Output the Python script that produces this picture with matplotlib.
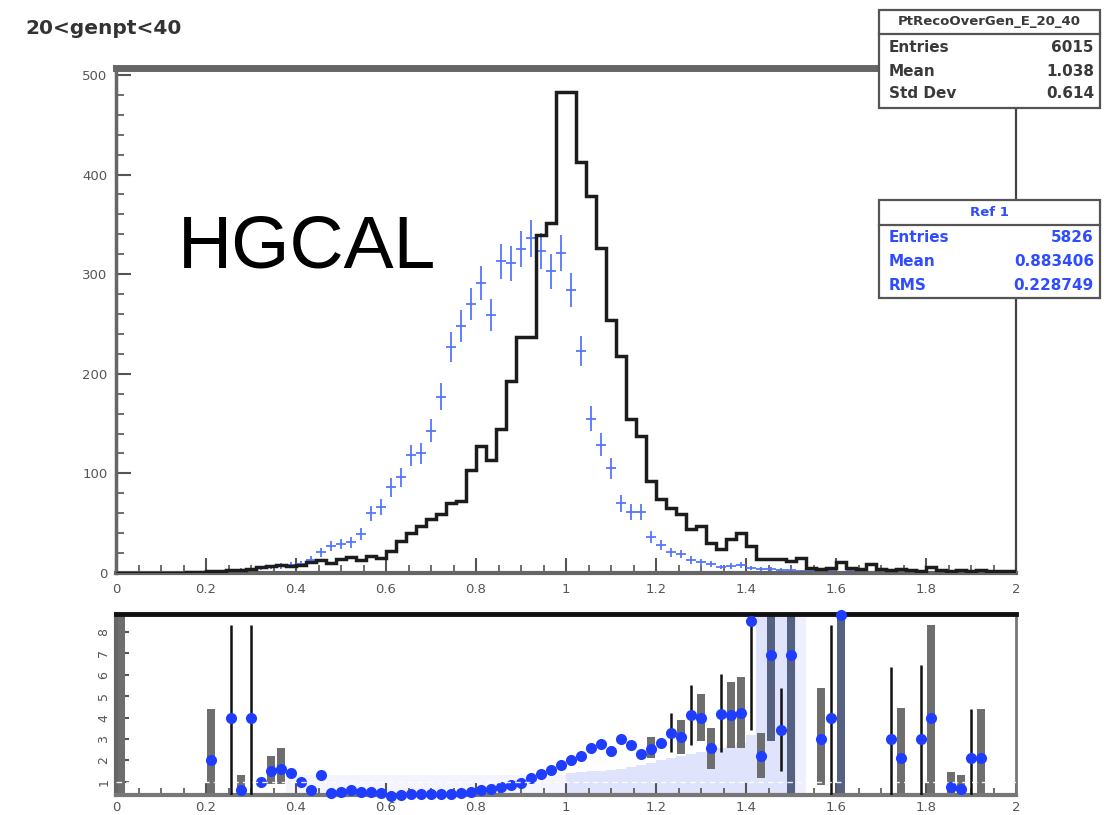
import numpy as np
import matplotlib.pyplot as plt
from matplotlib.patches import Rectangle
from matplotlib.lines import Line2D
from matplotlib.ticker import MultipleLocator

plt.rcParams["font.family"] = ["DejaVu Sans"]

# ---------------- data (90 bins, 0..2) ----------------
edges = np.linspace(0, 2, 91)

reco_counts = [0, 0, 0, 0, 0, 0, 0, 1, 1, 2,
               2, 3, 3, 4, 6, 7, 8, 7, 8, 11,
               13, 10, 14, 16, 13, 17, 15, 22, 32, 40,
               47, 54, 59, 70, 72, 103, 128, 113, 145, 193,
               237, 237, 339, 351, 483, 483, 413, 378, 326, 254,
               218, 155, 138, 92, 74, 65, 59, 44, 47, 30,
               24, 34, 40, 27, 14, 14, 14, 12, 15, 5,
               4, 5, 11, 5, 4, 9, 4, 3, 4, 3,
               2, 6, 3, 2, 3, 2, 3, 2, 2, 2]

ref_counts = [0, 0, 0, 0, 0, 0, 0, 0, 1, 1,
              2, 2, 3, 3, 5, 6, 7, 8, 9, 13,
              21, 27, 29, 31, 39, 60, 66, 86, 96, 118,
              120, 143, 177, 227, 248, 270, 291, 259, 313, 311,
              325, 336, 323, 303, 321, 284, 223, 155, 129, 105,
              70, 61, 61, 36, 28, 21, 19, 13, 11, 9,
              6, 7, 8, 5, 4, 4, 3, 3, 2, 3,
              2, 2, 1, 2, 2, 1, 2, 1, 2, 1,
              1, 1, 2, 2, 1, 1, 1, 1, 1, 1]

# ratio pad
ratio_bins = [9, 11, 12, 13, 14, 15, 16, 17, 18, 19, 20, 21,
              22, 23, 24, 25, 26, 27, 28, 29, 30, 31, 32, 33, 34,
              35, 36, 37, 38, 39, 40, 41, 42, 43, 44, 45, 46, 47, 48, 49,
              50, 51, 52, 53, 54, 55, 56, 57, 58, 59, 60, 61, 62, 63, 64, 65, 66, 67,
              70, 71, 72, 77, 78, 80, 81, 83, 84, 85, 86]
ratio_vals = [2.0, 4.0, 0.6, 4.0, 1.0, 1.5, 1.6, 1.4, 1.0, 0.6, 1.3, 0.5,
              0.55, 0.6, 0.55, 0.55, 0.5, 0.35, 0.4, 0.45, 0.45, 0.45, 0.45, 0.45, 0.5,
              0.55, 0.6, 0.65, 0.75, 0.85, 0.95, 1.2, 1.35, 1.55, 1.8, 2.0, 2.2, 2.6, 2.75, 2.45,
              3.0, 2.7, 2.3, 2.55, 2.8, 3.3, 3.1, 4.1, 4.0, 2.6, 4.15, 4.1, 4.2, 8.5, 2.2, 6.9, 3.4, 6.9,
              3.0, 4.0, 8.8, 3.0, 2.1, 3.0, 4.0, 0.75, 0.65, 2.1, 2.1]

black_bins = [11, 13, 55, 57, 60, 63, 66, 71, 77, 80, 85]
black_lo = [0.39, 0.39, 2.4, 2.7, 2.4, 3.4, 1.5, 0.39, 0.39, 0.39, 0.39]
black_hi = [8.33, 8.33, 4.2, 5.5, 6.05, 8.5, 5.4, 8.33, 6.36, 6.44, 4.4]

gray_bins = [0, 9, 12, 15, 16, 53, 56, 58, 59, 61, 62, 64, 65, 67, 70, 72, 78, 81, 83, 84, 86]
gray_lo = [0.39, 0.39, 0.39, 0.9, 0.9, 2.1, 2.3, 2.9, 1.6, 2.6, 2.6, 1.2, 2.9, 0.39,
           0.84, 0.39, 0.39, 0.39, 0.39, 0.39, 0.39]
gray_hi = [8.83, 4.4, 1.3, 2.2, 2.6, 3.1, 3.9, 5.1, 3.5, 5.65, 5.9, 3.3, 8.83, 8.83,
           5.4, 8.83, 4.47, 8.33, 1.47, 1.3, 4.4]
gray_dark = [65, 67, 72]

# pale band: bins 17..44 (very faint) and 45..67
band_first = 17
band_faint = [1.3, 1.3, 1.3, 1.3, 1.3, 1.3, 1.3, 1.3, 1.3, 1.3,
              1.3, 1.3, 1.3, 1.3, 1.3, 1.3, 1.3, 1.3, 1.3, 1.3,
              1.3, 1.3, 1.3, 1.3, 1.3, 1.3, 1.3, 1.3]
band_vals = [1.4, 1.45, 1.5, 1.5, 1.55, 1.6, 1.7, 1.8, 1.9, 2.0,
             2.1, 2.2, 2.3, 2.4, 2.5, 2.6, 2.7, 2.8, 3.2,
             8.83, 8.83, 8.83, 8.83]

stats_main = [("Entries", "6015"), ("Mean", "1.038"), ("Std Dev", "0.614")]
stats_ref = [("Entries", "5826"), ("Mean", "0.883406"), ("RMS", "0.228749")]

# ---------------- figure ----------------
W, H = 1104, 815
fig = plt.figure(figsize=(W / 100, H / 100), dpi=100)
fig.patch.set_facecolor("white")


def fx(px):
    return px / W


def fy(py):
    return 1 - py / H


ax = fig.add_axes([fx(116), fy(573), fx(900), (573 - 68) / H])
axr = fig.add_axes([fx(116), fy(795), fx(900), (795 - 614) / H])

centers = 0.5 * (edges[:-1] + edges[1:])
bw = edges[1] - edges[0]
ref = np.array(ref_counts, dtype=float)
m = ref > 0

blue = "#5575ff"
ax.errorbar(centers[m], ref[m], xerr=bw / 2, yerr=np.sqrt(ref[m]), fmt="none",
            ecolor=blue, elinewidth=1.3, capsize=0, zorder=2)
ax.stairs(reco_counts, edges, color="#1c1c1c", lw=2.5, zorder=3)

xt = np.arange(0, 2.01, 0.2)
ax.set_xlim(0, 2)
ax.set_ylim(0, 507)
ax.set_xticks(xt)
ax.set_xticklabels([f"{v:g}" for v in np.round(xt, 1)])
ax.xaxis.set_minor_locator(MultipleLocator(0.05))
ax.yaxis.set_major_locator(MultipleLocator(100))
ax.yaxis.set_minor_locator(MultipleLocator(20))
ax.tick_params(which="both", direction="in", colors="#555555", labelsize=9.5,
               top=False, right=False)
ax.tick_params(which="major", length=11, width=1.5)
ax.tick_params(which="minor", length=6, width=1.2)
ax.tick_params(axis="x", pad=7)
ax.tick_params(axis="y", pad=6)
for sp, lw, c in [("left", 2.5, "#666666"), ("bottom", 3, "#666666"),
                  ("top", 5, "#666666"), ("right", 1.6, "#444444")]:
    ax.spines[sp].set_linewidth(lw)
    ax.spines[sp].set_color(c)

# ---------------- ratio pad ----------------
axr.stairs(band_faint, edges[band_first:band_first + len(band_faint) + 1],
           baseline=0.39, fill=True, color="#f3f4fe", zorder=1)
b2 = band_first + len(band_faint)
axr.stairs(band_vals, edges[b2:b2 + len(band_vals) + 1],
           baseline=0.39, fill=True, color="#dfe3fb", zorder=1)
axr.stairs([8.83], edges[68:70], baseline=0.39, fill=True, color="#eef0fd", zorder=1)

gc = [centers[b] for b in gray_bins]
gcol = ["#56607f" if b in gray_dark else "#6e6e6e" for b in gray_bins]
axr.bar(gc, np.array(gray_hi) - np.array(gray_lo), bottom=gray_lo, width=0.018,
        color=gcol, zorder=2)
axr.vlines([centers[b] for b in black_bins], black_lo, black_hi, color="#111111",
           lw=1.8, zorder=3)
axr.plot([centers[b] for b in ratio_bins], ratio_vals, "o", color="#1f3dff",
         markersize=8, markeredgewidth=0, zorder=4, clip_on=False)
axr.axhline(1, color="white", ls=(0, (4, 3)), lw=1.0, alpha=0.9, zorder=5)

axr.set_xlim(0, 2)
axr.set_ylim(0.39, 8.83)
axr.set_xticks(xt)
axr.set_xticklabels([f"{v:g}" for v in np.round(xt, 1)])
axr.xaxis.set_minor_locator(MultipleLocator(0.05))
axr.set_yticks(range(1, 9))
axr.set_yticklabels([str(i) for i in range(1, 9)], rotation=90, va="center")
axr.tick_params(which="both", direction="in", colors="#555555", labelsize=9.5,
                top=False, right=False)
axr.tick_params(axis="y", labelsize=9)
axr.tick_params(which="major", length=9, width=1.5)
axr.tick_params(which="minor", length=5, width=1.2)
axr.tick_params(axis="y", pad=4)
axr.tick_params(axis="x", pad=4)
for sp, lw, c in [("left", 3, "#666666"), ("bottom", 3, "#777777"),
                  ("top", 3.5, "#111111"), ("right", 2, "#777777")]:
    axr.spines[sp].set_linewidth(lw)
    axr.spines[sp].set_color(c)

# ---------------- texts ----------------
fig.text(fx(25), fy(28), "20<genpt<40", fontsize=14.5, fontweight="bold",
         color="#333333", va="center", ha="left")
fig.text(fx(178), fy(268), "HGCAL", fontsize=54, color="black", va="baseline", ha="left",
         family=["Liberation Sans", "DejaVu Sans"])


def stat_box(x0, y0, x1, y1, ysep, title, rows, color, rowys, titley):
    r = Rectangle((fx(x0), fy(y1)), fx(x1 - x0), (y1 - y0) / H, transform=fig.transFigure,
                  facecolor="white", edgecolor="#555555", lw=1.6, zorder=10)
    fig.add_artist(r)
    fig.add_artist(Line2D([fx(x0), fx(x1)], [fy(ysep), fy(ysep)], transform=fig.transFigure,
                          color="#555555", lw=1.6, zorder=11))
    fig.text(fx((x0 + x1) / 2), fy(titley), title, fontsize=9.5, color=color,
             ha="center", va="center", zorder=12, fontweight="bold")
    for (k, v), yy in zip(rows, rowys):
        fig.text(fx(x0 + 10), fy(yy), k, fontsize=11, color=color, ha="left",
                 va="center", zorder=12, fontweight="bold")
        fig.text(fx(x1 - 6), fy(yy), v, fontsize=11, color=color, ha="right",
                 va="center", zorder=12, fontweight="bold")


stat_box(879, 10, 1100, 108, 34, "PtRecoOverGen_E_20_40", stats_main, "#3a3a3a",
         [47, 71, 94], 22)
stat_box(879, 200, 1100, 298, 225, "Ref 1", stats_ref, "#2f4cff",
         [238, 262, 286], 212)

fig.savefig("out.png", dpi=100)
